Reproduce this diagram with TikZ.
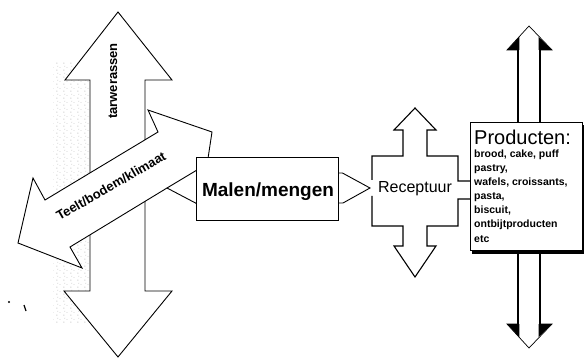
\documentclass[tikz,border=0pt]{standalone}
\usepackage{fontspec}
\setmainfont{Liberation Sans}
\usetikzlibrary{patterns.meta}
\tikzdeclarepattern{
  name=stipple, type=uncolored,
  bottom left={(0pt,0pt)}, top right={(7pt,7pt)}, tile size={(7pt,7pt)},
  code={\fill (1pt,1pt) circle (0.6pt); \fill (4.5pt,4pt) circle (0.5pt); \fill (2pt,5.5pt) circle (0.45pt);}
}
\begin{document}
\begin{tikzpicture}[x=1pt,y=-1pt,line join=miter,
  shp/.style={draw=black,fill=white,line width=0.9pt},
  lbl/.style={inner sep=0pt,text=black},
  plist/.style={lbl,anchor=base west,font=\bfseries\fontsize{10.5}{12}\selectfont}]
\fill[white] (0,0) rectangle (584,358);
\useasboundingbox (0,0) rectangle (584,358);

% stippled shadow
\fill[pattern=stipple,pattern color=gray!55] (53,63) rectangle (90,322);

% vertical double arrow (tarwerassen)
\filldraw[shp] (118,12) -- (172,80) -- (145,80) -- (145,291) -- (172,291) -- (118,357)
  -- (64,291) -- (90,291) -- (90,80) -- (65,80) -- cycle;
\node[lbl,font=\bfseries\fontsize{13}{15}\selectfont,rotate=90] (tarwe) at (113,81) {tarwerassen};

% diagonal arrow (Teelt/bodem/klimaat)
\filldraw[shp] (45,200) -- (33,178) -- (18,243) -- (82,268) -- (70,247) -- (167,188)
  -- (205,208) -- (230,175) -- (207,165) -- (212,132) -- (148,110) -- (158,132) -- cycle;
\coordinate (dlow) at (167,188);
\coordinate (dbox) at (197,170);
\draw[line width=0.9pt] (dlow) -- (dbox);
\node[lbl,font=\bfseries\fontsize{13}{15}\selectfont,rotate=30] (teelt) at (111,186) {Teelt/bodem/klimaat};

% Malen/mengen box
\node[shp,minimum width=142pt,minimum height=63pt,inner sep=0pt] (malen) at (267,188.5) {};
\node[lbl,font=\bfseries\fontsize{19}{22}\selectfont,anchor=base] (malentxt) at (268,197) {Malen/mengen};

% Receptuur cross
\fill[white] (372,180) -- (372,156) -- (403,156) -- (403,130) -- (394,130) -- (415,108) -- (436,130)
  -- (427,130) -- (427,156) -- (458,156) -- (458,181) -- (475,181) -- (475,199) -- (458,199)
  -- (458,226) -- (427,226) -- (427,246) -- (436,246) -- (415,277) -- (394,246) -- (403,246)
  -- (403,226) -- (372,226) -- (372,196) -- cycle;
\draw[line width=1.1pt] (372,180) -- (372,156) -- (403,156) -- (403,130) -- (394,130) -- (415,108) -- (436,130)
  -- (427,130) -- (427,156) -- (458,156) -- (458,181) -- (475,181) (475,199) -- (458,199)
  -- (458,226) -- (427,226) -- (427,246) -- (436,246) -- (415,277) -- (394,246) -- (403,246)
  -- (403,226) -- (372,226) -- (372,196);
\node[lbl,font=\fontsize{16}{19}\selectfont,anchor=base] (recept) at (415,193) {Receptuur};

% arrow head from Malen to Receptuur
\coordinate (mtip) at (370,188);
\draw[line width=0.9pt] (malen.east |- 0,173) -- ++(4,0) -- (mtip) -- (343,203) -- (malen.east |- 0,203);

% right vertical double arrow
\filldraw[draw=black,fill=white,line width=0.7pt] (529,26) -- (552,50) -- (540,50) -- (540,324) -- (552,324) -- (529,348)
  -- (507,324) -- (518,324) -- (518,50) -- (507,50) -- cycle;
\draw[line width=2.6pt] (518,46) -- (518,328) (540,46) -- (540,328);
\fill[black] (507,50) -- (519.3,50) -- (519.3,37) -- cycle;
\fill[black] (538.7,37) -- (538.7,50) -- (552,50) -- cycle;
\fill[black] (507,324) -- (519.3,324) -- (519.3,337) -- cycle;
\fill[black] (538.7,337) -- (538.7,324) -- (552,324) -- cycle;

% Producten box with shadow
\fill[black] (472,125) rectangle (584,254);
\node[shp,minimum width=112pt,minimum height=128pt,inner sep=0pt] (prod) at (526,186) {};
\node[lbl,font=\fontsize{20}{24}\selectfont,anchor=base west] (prodtitle) at (474,145) {Producten:};
\node[plist] (p1) at (474,158) {brood, cake, puff};
\node[plist] (p2) at (474,172) {pastry,};
\node[plist] (p3) at (474,186) {wafels, croissants,};
\node[plist] (p4) at (474,200) {pasta,};
\node[plist] (p5) at (474,214) {biscuit,};
\node[plist] (p6) at (474,228) {ontbijtproducten};
\node[plist] (p7) at (474,243) {etc};

% scanning specks
\fill (9,302) circle (1.2);
\draw[line width=1.2pt] (24,305) -- (26,311);
\end{tikzpicture}
\end{document}
